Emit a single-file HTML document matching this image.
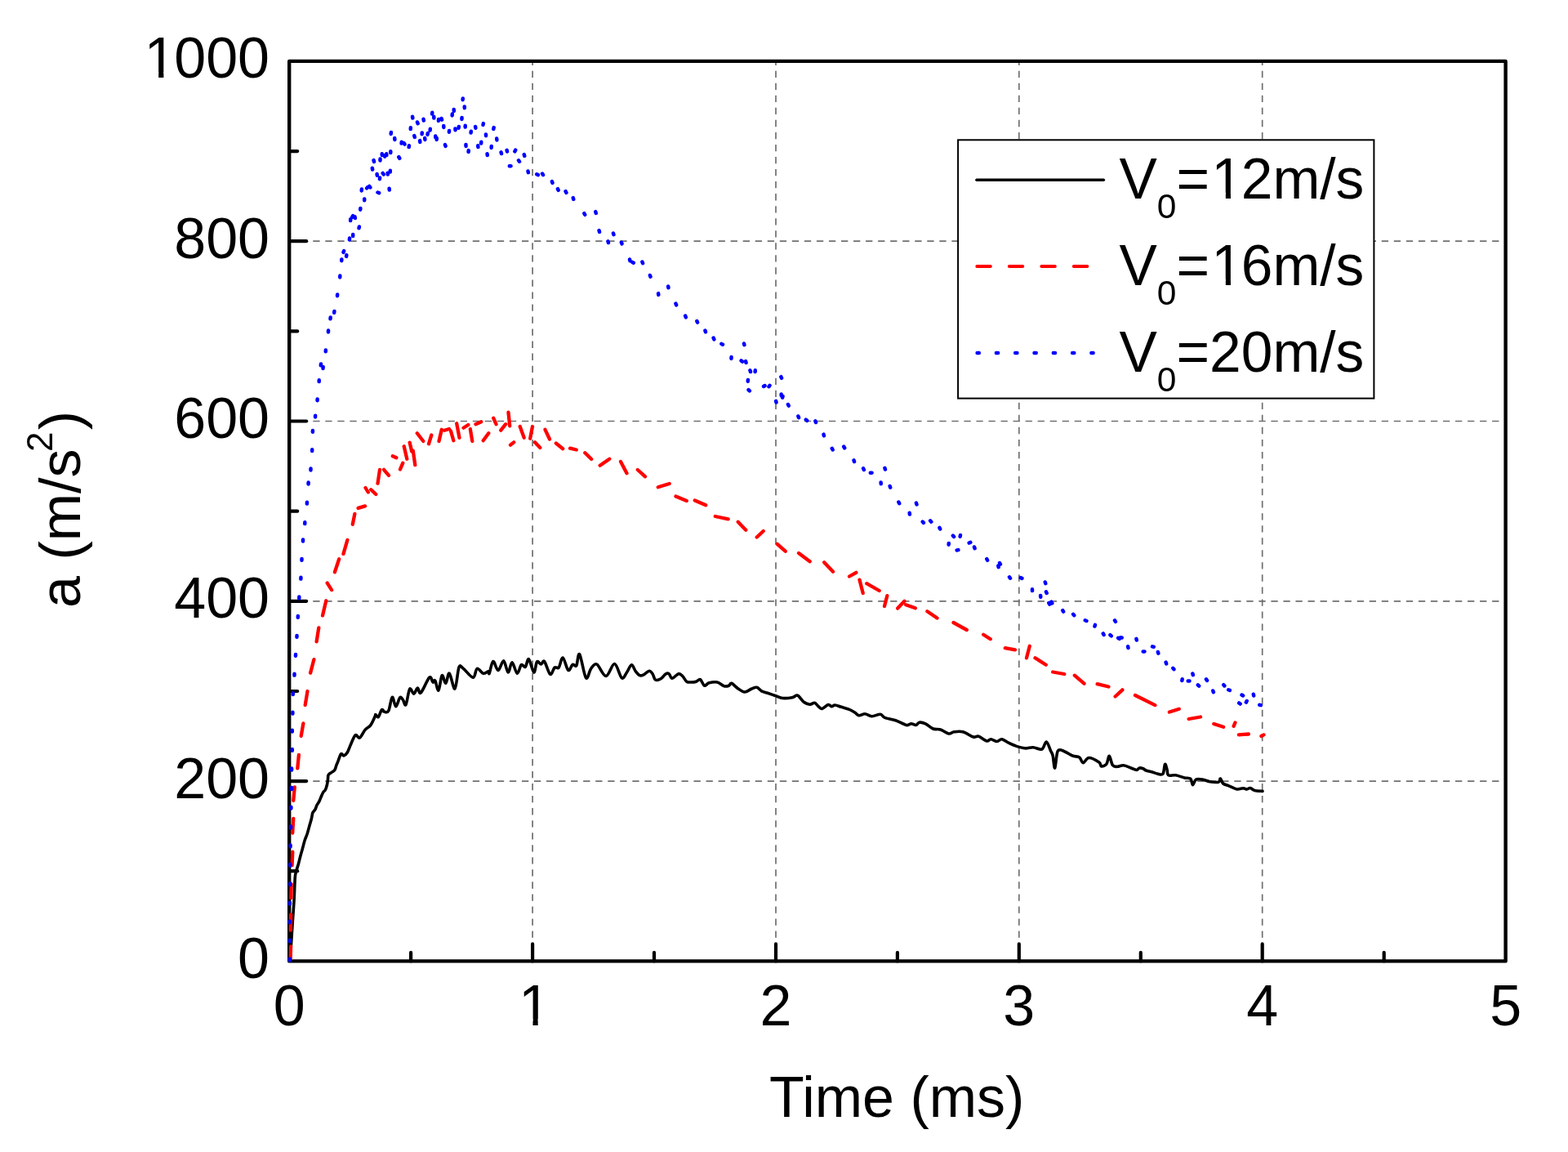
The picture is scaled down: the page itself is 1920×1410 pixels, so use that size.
<!DOCTYPE html>
<html><head><meta charset="utf-8"><title>a vs Time</title>
<style>html,body{margin:0;padding:0;background:#fff;}body{width:1920px;height:1410px;overflow:hidden;}svg{display:block;}text{font-family:"Liberation Sans", Arial, Helvetica, sans-serif;fill:#000;}</style>
</head><body>
<svg width="1920" height="1410" viewBox="0 0 1920 1410">
<defs><clipPath id="pc"><rect x="351.2" y="74.9" width="1492.4" height="1104.5"/></clipPath><clipPath id="c1_1"><path clip-rule="evenodd" d="M-5000 -5000H5000V5000H-5000ZM1487.76 235.81H1500.83V245.00H1487.76ZM1506.97 235.81H1519.49V245.00H1506.97Z"/></clipPath><clipPath id="c1_2"><path clip-rule="evenodd" d="M-5000 -5000H5000V5000H-5000ZM1487.76 341.81H1500.83V351.00H1487.76ZM1506.97 341.81H1519.49V351.00H1506.97Z"/></clipPath><clipPath id="c1_3"><path clip-rule="evenodd" d="M-5000 -5000H5000V5000H-5000ZM181.01 88.07H194.17V97.30H181.01ZM200.36 88.07H212.97V97.30H200.36Z"/></clipPath><clipPath id="c1_4"><path clip-rule="evenodd" d="M-5000 -5000H5000V5000H-5000ZM639.35 1247.27H652.51V1256.50H639.35ZM658.69 1247.27H671.31V1256.50H658.69Z"/></clipPath></defs>
<rect x="0" y="0" width="1920" height="1410" fill="#fff"/>
<g stroke="#707070" stroke-width="1.7" stroke-dasharray="8.3 6.74" fill="none">
<line x1="652.1" y1="74.9" x2="652.1" y2="1176.4" stroke-dashoffset="3.24"/>
<line x1="950.0" y1="74.9" x2="950.0" y2="1176.4" stroke-dashoffset="3.24"/>
<line x1="1247.8" y1="74.9" x2="1247.8" y2="1176.4" stroke-dashoffset="3.24"/>
<line x1="1545.7" y1="74.9" x2="1545.7" y2="1176.4" stroke-dashoffset="3.24"/>
<line x1="354.2" y1="956.1" x2="1843.6" y2="956.1" stroke-dashoffset="1.0"/>
<line x1="354.2" y1="735.8" x2="1843.6" y2="735.8" stroke-dashoffset="1.0"/>
<line x1="354.2" y1="515.5" x2="1843.6" y2="515.5" stroke-dashoffset="1.0"/>
<line x1="354.2" y1="295.2" x2="1843.6" y2="295.2" stroke-dashoffset="1.0"/>
</g>
<g stroke="#000" stroke-width="4.2" stroke-linecap="round" fill="none">
<line x1="354.2" y1="1066.2" x2="364.2" y2="1066.2"/>
<line x1="354.2" y1="956.1" x2="375.2" y2="956.1"/>
<line x1="354.2" y1="846.0" x2="364.2" y2="846.0"/>
<line x1="354.2" y1="735.8" x2="375.2" y2="735.8"/>
<line x1="354.2" y1="625.7" x2="364.2" y2="625.7"/>
<line x1="354.2" y1="515.5" x2="375.2" y2="515.5"/>
<line x1="354.2" y1="405.4" x2="364.2" y2="405.4"/>
<line x1="354.2" y1="295.2" x2="375.2" y2="295.2"/>
<line x1="354.2" y1="185.1" x2="364.2" y2="185.1"/>
<line x1="503.1" y1="1176.4" x2="503.1" y2="1165.9"/>
<line x1="652.1" y1="1176.4" x2="652.1" y2="1155.4"/>
<line x1="801.0" y1="1176.4" x2="801.0" y2="1165.9"/>
<line x1="950.0" y1="1176.4" x2="950.0" y2="1155.4"/>
<line x1="1098.9" y1="1176.4" x2="1098.9" y2="1165.9"/>
<line x1="1247.8" y1="1176.4" x2="1247.8" y2="1155.4"/>
<line x1="1396.8" y1="1176.4" x2="1396.8" y2="1165.9"/>
<line x1="1545.7" y1="1176.4" x2="1545.7" y2="1155.4"/>
<line x1="1694.7" y1="1176.4" x2="1694.7" y2="1165.9"/>
</g>
<rect x="354.2" y="74.9" width="1489.4" height="1101.5" fill="none" stroke="#000" stroke-width="4.4" stroke-linejoin="round"/>
<g clip-path="url(#pc)">
<path d="M354.90 1176.00C355.08 1173.92 355.48 1170.73 356.00 1163.50C356.52 1156.27 357.32 1142.90 358.00 1132.60C358.68 1122.30 359.55 1111.47 360.10 1101.70C360.65 1091.93 360.83 1080.00 361.30 1074.00C361.77 1068.00 362.22 1068.45 362.90 1065.70C363.58 1062.95 364.55 1060.58 365.40 1057.50C366.25 1054.42 367.13 1050.45 368.00 1047.20C368.87 1043.95 369.75 1041.08 370.60 1038.00C371.45 1034.92 372.17 1031.62 373.10 1028.70C374.03 1025.78 375.25 1023.42 376.20 1020.50C377.15 1017.58 377.93 1014.28 378.80 1011.20C379.67 1008.12 380.72 1004.73 381.40 1002.00C382.08 999.27 382.13 996.68 382.90 994.80C383.67 992.92 385.15 992.25 386.00 990.70C386.85 989.15 387.23 987.05 388.00 985.50C388.77 983.95 389.73 983.12 390.60 981.40C391.47 979.68 392.33 977.17 393.20 975.20C394.07 973.23 394.95 970.97 395.80 969.60C396.65 968.23 397.53 968.47 398.30 967.00C399.07 965.53 399.88 962.85 400.40 960.80C400.92 958.75 401.15 956.67 401.40 954.70C401.65 952.73 401.55 950.28 401.90 949.00C402.25 947.72 402.55 947.77 403.50 947.00C404.45 946.23 406.48 945.27 407.60 944.40C408.72 943.53 409.52 943.00 410.20 941.80C410.88 940.60 411.10 938.82 411.70 937.20C412.30 935.58 412.82 934.50 413.80 932.10C414.78 929.70 416.42 923.98 417.60 922.80C418.78 921.62 419.62 925.30 420.90 925.00C422.18 924.70 423.83 923.38 425.30 921.00C426.77 918.62 428.05 914.25 429.70 910.70C431.35 907.15 433.38 900.98 435.20 899.70C437.02 898.42 438.60 904.10 440.60 903.00C442.60 901.90 445.00 895.67 447.20 893.10C449.40 890.53 451.78 890.35 453.80 887.60C455.82 884.85 458.27 878.75 459.30 876.60C460.33 874.45 459.33 874.55 460.00 874.70C460.67 874.85 462.05 878.50 463.30 877.50C464.55 876.50 466.25 869.73 467.50 868.70C468.75 867.67 469.42 871.08 470.80 871.30C472.18 871.52 474.22 873.00 475.80 870.00C477.38 867.00 478.82 854.18 480.30 853.30C481.78 852.42 483.13 864.62 484.70 864.70C486.27 864.78 488.27 855.20 489.70 853.80C491.13 852.40 492.08 854.85 493.30 856.30C494.52 857.75 495.60 864.67 497.00 862.50C498.40 860.33 500.08 845.52 501.70 843.30C503.32 841.08 505.10 849.42 506.70 849.20C508.30 848.98 509.87 842.20 511.30 842.00C512.73 841.80 512.88 850.13 515.30 848.00C517.72 845.87 523.35 831.37 525.80 829.20C528.25 827.03 528.83 834.37 530.00 835.00C531.17 835.63 531.63 831.33 532.80 833.00C533.97 834.67 535.60 846.05 537.00 845.00C538.40 843.95 539.73 828.15 541.20 826.70C542.67 825.25 544.28 836.72 545.80 836.30C547.32 835.88 548.43 823.08 550.30 824.20C552.17 825.32 555.05 844.25 557.00 843.00C558.95 841.75 560.33 820.87 562.00 816.70C563.67 812.53 564.13 815.92 567.00 818.00C569.87 820.08 576.33 829.15 579.20 829.20C582.07 829.25 582.12 819.13 584.20 818.30C586.28 817.47 589.40 823.63 591.70 824.20C594.00 824.77 596.75 821.70 598.00 821.70C599.25 821.70 598.23 826.23 599.20 824.20C600.17 822.17 602.00 810.12 603.80 809.50C605.60 808.88 607.85 820.62 610.00 820.50C612.15 820.38 614.67 808.38 616.70 808.80C618.73 809.22 620.48 822.67 622.20 823.00C623.92 823.33 625.15 810.60 627.00 810.80C628.85 811.00 631.42 823.72 633.30 824.20C635.18 824.68 636.63 815.02 638.30 813.70C639.97 812.38 641.77 817.47 643.30 816.30C644.83 815.13 645.77 805.58 647.50 806.70C649.23 807.82 652.03 822.45 653.70 823.00C655.37 823.55 656.03 811.67 657.50 810.00C658.97 808.33 660.97 813.05 662.50 813.00C664.03 812.95 664.83 807.65 666.70 809.70C668.57 811.75 671.62 824.08 673.70 825.30C675.78 826.52 677.45 818.38 679.20 817.00C680.95 815.62 682.53 819.00 684.20 817.00C685.87 815.00 687.27 804.45 689.20 805.00C691.13 805.55 693.78 818.92 695.80 820.30C697.82 821.68 699.63 814.23 701.30 813.30C702.97 812.37 704.40 816.78 705.80 814.70C707.20 812.62 707.75 798.30 709.70 800.80C711.65 803.30 715.17 826.78 717.50 829.70C719.83 832.62 721.48 821.08 723.70 818.30C725.92 815.52 727.75 811.47 730.80 813.00C733.85 814.53 738.38 827.58 742.00 827.50C745.62 827.42 749.28 812.13 752.50 812.50C755.72 812.87 758.80 827.95 761.30 829.70C763.80 831.45 765.50 825.67 767.50 823.00C769.50 820.33 771.50 813.92 773.30 813.70C775.10 813.48 776.63 819.53 778.30 821.70C779.97 823.87 781.63 826.02 783.30 826.70C784.97 827.38 786.35 826.70 788.30 825.80C790.25 824.90 793.18 821.43 795.00 821.30C796.82 821.17 797.95 823.22 799.20 825.00C800.45 826.78 800.83 831.03 802.50 832.00C804.17 832.97 807.12 831.97 809.20 830.80C811.28 829.63 813.33 826.02 815.00 825.00C816.67 823.98 817.87 823.82 819.20 824.70C820.53 825.58 821.07 830.30 823.00 830.30C824.93 830.30 828.67 825.17 830.80 824.70C832.93 824.23 834.13 825.92 835.80 827.50C837.47 829.08 838.98 832.95 840.80 834.20C842.62 835.45 844.75 835.00 846.70 835.00C848.65 835.00 850.70 834.75 852.50 834.20C854.30 833.65 855.83 830.87 857.50 831.70C859.17 832.53 860.70 838.52 862.50 839.20C864.30 839.88 865.67 836.50 868.30 835.80C870.93 835.10 875.23 834.35 878.30 835.00C881.37 835.65 884.33 839.00 886.70 839.70C889.07 840.40 890.98 839.77 892.50 839.20C894.02 838.63 894.00 835.75 895.80 836.30C897.60 836.85 900.65 840.72 903.30 842.50C905.95 844.28 908.92 846.87 911.70 847.00C914.48 847.13 917.50 844.25 920.00 843.30C922.50 842.35 924.62 840.88 926.70 841.30C928.78 841.72 930.28 844.63 932.50 845.80C934.72 846.97 937.08 847.32 940.00 848.30C942.92 849.28 946.95 850.67 950.00 851.70C953.05 852.73 954.97 854.17 958.30 854.50C961.63 854.83 966.93 854.25 970.00 853.70C973.07 853.15 974.33 850.28 976.70 851.20C979.07 852.12 981.70 857.37 984.20 859.20C986.70 861.03 989.48 862.02 991.70 862.20C993.92 862.38 995.70 859.83 997.50 860.30C999.30 860.77 1000.97 863.80 1002.50 865.00C1004.03 866.20 1004.75 867.92 1006.70 867.50C1008.65 867.08 1012.27 862.97 1014.20 862.50C1016.13 862.03 1016.92 864.62 1018.30 864.70C1019.68 864.78 1020.55 862.90 1022.50 863.00C1024.45 863.10 1027.08 864.42 1030.00 865.30C1032.92 866.18 1037.22 867.18 1040.00 868.30C1042.78 869.42 1044.75 870.75 1046.70 872.00C1048.65 873.25 1049.62 875.52 1051.70 875.80C1053.78 876.08 1056.57 873.55 1059.20 873.70C1061.83 873.85 1064.37 876.62 1067.50 876.70C1070.63 876.78 1075.37 873.93 1078.00 874.20C1080.63 874.47 1080.18 877.05 1083.30 878.30C1086.42 879.55 1092.25 880.17 1096.70 881.70C1101.15 883.23 1106.82 886.82 1110.00 887.50C1113.18 888.18 1113.85 885.80 1115.80 885.80C1117.75 885.80 1120.03 887.77 1121.70 887.50C1123.37 887.23 1123.87 884.48 1125.80 884.20C1127.73 883.92 1130.52 884.50 1133.30 885.80C1136.08 887.10 1139.43 890.80 1142.50 892.00C1145.57 893.20 1148.50 892.00 1151.70 893.00C1154.90 894.00 1158.93 897.53 1161.70 898.00C1164.47 898.47 1165.38 896.17 1168.30 895.80C1171.22 895.43 1175.30 894.77 1179.20 895.80C1183.10 896.83 1188.52 901.08 1191.70 902.00C1194.88 902.92 1195.53 900.47 1198.30 901.30C1201.07 902.13 1205.80 906.43 1208.30 907.00C1210.80 907.57 1211.22 904.62 1213.30 904.70C1215.38 904.78 1218.57 907.50 1220.80 907.50C1223.03 907.50 1224.33 904.42 1226.70 904.70C1229.07 904.98 1232.23 907.85 1235.00 909.20C1237.77 910.55 1239.97 911.70 1243.30 912.80C1246.63 913.90 1251.38 915.48 1255.00 915.80C1258.62 916.12 1261.53 914.50 1265.00 914.70C1268.47 914.90 1273.08 918.12 1275.80 917.00C1278.52 915.88 1279.48 907.63 1281.30 908.00C1283.12 908.37 1285.38 916.37 1286.70 919.20C1288.02 922.03 1288.37 921.53 1289.20 925.00C1290.03 928.47 1290.68 940.97 1291.70 940.00C1292.72 939.03 1293.37 922.58 1295.30 919.20C1297.23 915.82 1300.30 918.73 1303.30 919.70C1306.30 920.67 1310.23 923.78 1313.30 925.00C1316.37 926.22 1319.53 925.55 1321.70 927.00C1323.87 928.45 1324.37 933.62 1326.30 933.70C1328.23 933.78 1330.05 927.62 1333.30 927.50C1336.55 927.38 1343.23 931.25 1345.80 933.00C1348.37 934.75 1347.17 937.67 1348.70 938.00C1350.23 938.33 1353.40 937.12 1355.00 935.00C1356.60 932.88 1357.05 925.02 1358.30 925.30C1359.55 925.58 1360.83 934.53 1362.50 936.70C1364.17 938.87 1366.08 938.30 1368.30 938.30C1370.52 938.30 1373.02 936.42 1375.80 936.70C1378.58 936.98 1382.35 939.03 1385.00 940.00C1387.65 940.97 1389.98 942.52 1391.70 942.50C1393.42 942.48 1393.95 940.18 1395.30 939.90C1396.65 939.62 1398.47 940.28 1399.80 940.80C1401.13 941.32 1401.53 942.33 1403.30 943.00C1405.07 943.67 1407.88 944.07 1410.40 944.80C1412.92 945.53 1416.12 947.03 1418.40 947.40C1420.68 947.77 1422.75 948.98 1424.10 947.00C1425.45 945.02 1425.68 936.38 1426.50 935.50C1427.32 934.62 1428.28 939.48 1429.00 941.70C1429.72 943.92 1429.03 947.62 1430.80 948.80C1432.57 949.98 1436.35 948.28 1439.60 948.80C1442.85 949.32 1447.27 951.17 1450.30 951.90C1453.33 952.63 1456.10 951.73 1457.80 953.20C1459.50 954.67 1459.38 960.55 1460.50 960.70C1461.62 960.85 1462.52 955.20 1464.50 954.10C1466.48 953.00 1469.60 953.67 1472.40 954.10C1475.20 954.53 1478.03 956.18 1481.30 956.70C1484.57 957.22 1489.82 957.82 1492.00 957.20C1494.18 956.58 1493.45 952.70 1494.40 953.00C1495.35 953.30 1495.90 957.48 1497.70 959.00C1499.50 960.52 1502.38 960.93 1505.20 962.10C1508.02 963.27 1511.78 965.57 1514.60 966.00C1517.42 966.43 1520.12 964.70 1522.10 964.70C1524.08 964.70 1525.02 966.03 1526.50 966.00C1527.98 965.97 1529.37 964.27 1531.00 964.50C1532.63 964.73 1533.80 966.75 1536.30 967.40C1538.80 968.05 1544.38 968.23 1546.00 968.40" fill="none" stroke="#000" stroke-width="3.6" stroke-linejoin="round" stroke-linecap="round"/>
<path d="M355.7 1173.5L356.1 1158.5M355.8 1138.5L356.2 1119.5M356.3 1099.0L356.8 1082.2M357.6 1059.1L358.3 1042.6M358.2 1019.5L359.3 1001.9M359.3 979.9L360.8 963.4M364.3 940.4L365.9 923.9M368.7 900.8L371.4 885.4M373.7 863.0L376.5 846.0M380.1 823.6L384.4 807.2M387.6 785.3L390.3 768.3M395.0 753.4L399.3 735.3M400.7 713.6L406.1 722.1M409.9 700.2L415.2 684.3M420.5 677.9L425.4 660.9M431.8 641.7L434.4 628.9M438.6 621.9L447.1 619.4M447.5 597.0L450.8 602.5M454.2 599.2L460.3 605.0M462.5 591.7L465.0 575.0M470.0 574.8L476.0 581.9M480.8 558.3L485.3 560.3M490.0 574.5L493.3 566.7M494.7 546.3L498.3 561.7M501.7 541.7L504.2 552.5M505.8 551.7L508.3 569.2M510.8 530.3L518.3 540.0M525.0 543.3L528.3 532.5M537.5 540.0L540.8 525.8M544.2 526.7L550.0 525.0M552.0 527.5L555.3 539.2M559.2 518.3L562.5 535.8M567.5 523.7L573.3 520.0M575.8 525.0L578.3 540.0M582.5 519.2L589.2 516.3M591.7 539.2L598.3 530.3M604.2 511.7L607.5 519.2M613.3 526.7L619.2 519.2M622.5 504.7L624.2 521.3M625.0 544.7L629.2 541.3M636.7 522.0L641.7 535.8M649.2 536.7L652.0 522.0M655.0 541.3L661.3 548.0M667.5 525.8L673.0 537.5M680.8 542.5L689.2 549.2M698.0 548.7L705.8 550.5M716.3 554.2L724.2 562.0M734.7 569.7L746.3 561.7M760.0 565.0L767.5 579.2M780.8 575.0L790.0 583.3M805.8 596.3L819.7 592.0M827.5 607.5L840.8 613.0M850.8 612.5L864.2 618.3M875.8 632.0L891.7 635.3M903.7 638.7L913.3 648.7M926.7 657.5L934.7 650.0M951.7 665.8L961.7 674.7M978.0 677.0L991.7 687.2M1009.2 688.3L1020.0 699.7M1040.0 705.5L1048.3 700.8M1052.5 709.6L1056.7 726.0M1061.2 714.2L1076.7 723.0M1083.0 742.0L1086.3 729.2M1099.2 744.6L1107.5 735.8M1109.2 740.2L1120.8 744.2M1135.4 748.3L1147.5 756.5M1167.5 762.0L1183.8 771.0M1204.2 776.7L1212.8 782.2M1230.8 793.2L1243.0 795.4M1257.0 805.3L1260.8 790.8M1267.5 805.3L1280.8 813.7M1289.2 822.5L1303.3 825.0M1315.8 826.7L1327.5 836.7M1343.6 837.2L1357.5 840.5M1365.6 852.5L1374.4 844.4M1390.0 851.0L1414.4 863.1M1431.9 871.5L1443.8 867.8M1455.6 880.0L1470.0 877.5M1486.3 886.0L1498.1 889.8M1510.6 888.8L1512.5 884.4M1516.9 899.4L1528.8 898.5M1544.4 901.0L1547.5 899.4" fill="none" stroke="#f00" stroke-width="4.3" stroke-linecap="round"/>
<path d="M354.90 1175.40L354.90 1173.60M354.90 1152.30L354.90 1150.50M354.90 1129.30L354.90 1127.50M354.90 1106.60L354.90 1104.80M355.30 1083.10L355.30 1081.30M355.30 1059.60L355.30 1057.80M355.60 1036.20L355.60 1034.40M355.99 1013.40L356.01 1011.60M356.39 989.60L356.41 987.80M357.10 965.90L357.10 964.10M357.10 942.40L357.10 940.60M357.80 918.80L357.80 917.00M357.80 895.50L357.80 893.70M358.39 873.50L358.41 871.70M358.79 850.00L358.81 848.20M360.48 826.60L360.52 824.80M361.98 802.80L362.02 801.00M363.48 779.80L363.52 778.00M364.78 755.80L364.82 754.00M366.28 732.40L366.32 730.60M368.38 708.60L368.42 706.80M369.48 685.80L369.52 684.00M370.97 662.40L371.03 660.60M373.27 641.10L373.33 639.30M375.87 616.60L375.93 614.80M377.57 592.40L377.63 590.60M380.47 575.40L380.53 573.60M382.18 552.00L382.22 550.20M382.87 528.80L382.93 527.00M386.06 510.50L386.14 508.70M388.57 490.30L388.63 488.50M390.67 467.10L390.73 465.30M392.81 447.30L392.99 445.50M395.50 450.89L395.70 449.11M398.76 430.30L398.84 428.50M401.96 406.40L402.04 404.60M404.51 390.30L404.69 388.50M409.21 382.80L409.39 381.00M413.05 362.20L413.15 360.40M416.26 339.40L416.34 337.60M418.26 319.20L418.34 317.40M420.49 308.84L421.11 307.16M424.06 313.89L424.34 312.11M427.90 293.39L428.10 291.61M432.18 288.90L432.22 287.10M429.21 270.10L429.19 268.30M431.23 265.77L432.17 264.23M434.52 265.32L434.88 267.08M439.51 279.18L439.89 277.42M441.24 256.70L441.36 254.90M446.18 245.20L446.22 243.40M442.73 233.40L442.87 231.60M449.11 230.38L450.29 229.02M452.26 227.98L453.34 229.42M462.46 235.48L464.14 236.12M476.77 232.60L476.63 230.80M456.16 207.59L455.84 205.81M457.57 196.13L458.03 197.87M461.60 212.91L461.80 214.69M464.94 219.20L465.06 217.40M465.47 196.40L465.53 194.60M467.74 188.30L467.86 190.10M468.68 211.97L469.72 213.43M471.15 191.70L471.25 189.90M473.25 188.30L473.35 190.10M474.63 211.80L474.77 213.60M477.76 210.60L477.84 208.80M478.29 187.10L478.31 185.30M478.71 163.90L478.89 162.10M483.20 169.11L483.40 170.89M488.34 192.23L489.26 193.77M491.59 175.59L491.81 173.81M494.50 175.05L495.50 176.55M500.68 180.09L500.92 178.31M502.76 158.10L502.84 156.30M505.06 142.81L505.34 144.59M507.24 166.14L507.76 167.86M510.99 149.46L511.61 151.14M514.08 172.11L514.32 173.89M516.65 164.20L516.75 162.40M518.54 145.81L518.86 147.59M520.21 169.10L520.39 170.90M523.53 164.68L523.87 162.92M526.63 159.60L526.77 157.80M529.11 139.60L529.29 137.80M531.26 142.80L531.34 144.60M533.26 166.60L533.34 168.40M534.65 170.90L534.75 169.10M536.92 147.90L537.08 146.10M540.57 144.93L541.03 146.67M543.26 154.10L543.34 155.90M544.98 177.16L545.62 178.84M549.93 161.70L550.07 159.90M553.63 141.40L553.77 139.60M555.74 134.10L555.86 135.90M557.42 157.40L557.58 159.20M561.52 156.68L561.88 154.92M565.46 145.90L565.54 144.10M566.63 122.20L566.77 120.40M568.77 130.40L568.83 132.20M569.69 153.80L569.71 155.60M570.46 177.10L570.54 178.90M573.59 185.89L573.81 184.11M576.61 162.60L576.79 160.80M582.05 154.91L582.35 156.69M585.19 178.31L585.41 180.09M589.13 175.60L589.27 173.80M591.52 152.88L591.88 151.12M594.96 164.40L595.04 166.20M596.56 188.31L596.84 190.09M601.63 180.90L601.77 179.10M604.30 157.88L604.70 156.12M608.21 169.60L608.39 171.40M613.55 186.34L614.05 188.06M620.60 183.82L621.00 185.58M623.80 203.35L625.60 203.25M630.35 185.28L631.25 183.72M634.99 196.26L636.01 197.74M641.76 189.13L642.24 190.87M646.50 209.42L646.90 211.18M657.20 213.29L658.80 214.11M664.01 212.55L664.99 214.05M675.91 222.15L676.49 223.85M682.92 231.18L683.68 232.82M692.56 234.22L693.44 235.78M701.76 242.13L702.24 243.87M715.37 261.21L716.23 262.79M729.25 259.13L729.75 260.87M733.56 282.13L734.04 283.87M750.96 285.43L751.44 287.17M744.44 295.34L744.96 297.06M760.87 296.66L761.53 298.34M771.03 317.42L771.37 319.18M774.22 320.85L775.78 321.75M786.35 320.47L787.05 322.13M795.90 336.95L796.50 338.65M818.17 350.41L818.43 352.19M806.07 359.11L806.33 360.89M827.46 371.67L828.14 373.33M839.16 386.67L839.84 388.33M853.33 392.98L854.07 394.62M863.42 404.54L863.98 406.26M873.64 413.67L874.36 415.33M883.41 420.87L884.99 421.73M911.00 420.42L911.40 422.18M895.54 437.10L895.46 438.90M907.61 441.42L908.99 442.58M913.05 442.13L913.55 443.87M918.41 453.35L918.99 455.05M924.77 453.30L924.63 455.10M915.89 464.91L915.71 466.69M916.57 477.16L917.83 478.44M935.04 472.99L936.56 472.01M941.50 473.25L942.50 471.75M956.33 461.18L957.07 462.82M956.68 482.40L956.72 484.20M958.52 484.93L958.08 486.67M950.10 490.82L950.50 492.58M964.90 494.99L965.70 496.61M977.36 509.46L978.04 511.14M986.81 513.62L988.19 514.78M998.38 515.36L999.02 517.04M1008.52 531.62L1008.88 533.38M1018.76 548.91L1019.64 550.49M1033.23 546.73L1034.17 548.27M1045.54 563.34L1046.06 565.06M1057.11 573.39L1057.89 575.01M1065.80 578.85L1067.60 578.75M1083.43 572.84L1083.97 574.56M1078.62 590.40L1078.78 592.20M1089.64 594.94L1090.16 596.66M1100.38 614.60L1101.22 616.20M1121.92 615.64L1122.48 617.36M1113.69 627.81L1113.91 629.59M1129.69 638.54L1130.91 639.86M1139.09 637.33L1140.31 638.67M1150.39 645.90L1151.21 647.50M1166.89 655.64L1168.11 656.96M1175.98 654.92L1175.62 656.68M1161.76 664.90L1161.64 666.70M1171.62 673.46L1173.38 673.14M1186.67 664.56L1188.33 663.84M1193.01 669.45L1193.59 671.15M1208.28 684.21L1209.12 685.79M1224.06 689.01L1224.94 690.59M1222.30 692.42L1222.70 694.18M1236.00 706.25L1237.00 707.75M1249.77 707.14L1251.43 707.86M1279.74 712.44L1280.26 714.16M1263.97 721.30L1264.03 723.10M1280.93 724.38L1281.67 726.02M1274.12 728.90L1274.28 730.70M1284.34 738.02L1285.26 739.58M1287.33 736.73L1288.27 738.27M1301.24 747.13L1302.16 748.67M1314.14 751.80L1315.26 753.20M1328.78 759.23L1330.42 759.97M1365.03 759.33L1365.97 760.87M1340.96 764.84L1340.44 766.56M1350.78 775.41L1351.62 776.99M1359.40 777.23L1360.80 778.37M1369.13 780.83L1370.67 781.77M1371.92 780.23L1373.68 780.57M1391.39 781.82L1391.81 783.58M1381.12 791.32L1381.48 793.08M1399.70 797.55L1401.50 797.45M1411.02 791.40L1412.78 791.80M1417.87 797.93L1418.33 799.67M1427.63 810.64L1428.17 812.36M1436.34 817.79L1437.46 819.21M1460.37 824.43L1460.83 826.17M1447.68 831.22L1447.32 832.98M1454.70 833.40L1456.50 833.40M1476.98 831.37L1478.02 832.83M1466.85 838.38L1468.15 839.62M1498.23 838.11L1499.37 839.49M1485.30 845.45L1485.90 847.15M1504.16 844.27L1505.84 844.93M1520.53 850.54L1522.07 851.46M1534.81 849.72L1535.19 851.48M1526.73 858.01L1525.87 859.59M1517.17 860.47L1518.63 861.53M1542.22 862.70L1543.98 863.10" fill="none" stroke="#00f" stroke-width="4.5" stroke-linecap="round"/>
</g>
<rect x="1173.1" y="171.3" width="509.3" height="316.3" fill="#fff" stroke="#000" stroke-width="2"/>
<line x1="1195.9" y1="220.2" x2="1351.4" y2="220.2" stroke="#000" stroke-width="3.4" stroke-linecap="round"/>
<line x1="1196.3" y1="325.9" x2="1352" y2="325.9" stroke="#f00" stroke-width="4" stroke-linecap="round" stroke-dasharray="16.5 23" />
<line x1="1196.6" y1="431.9" x2="1352" y2="431.9" stroke="#00f" stroke-width="4.5" stroke-linecap="round" stroke-dasharray="2.2 21.1" />
<text x="1370.5" y="243.0" font-size="69.5" clip-path="url(#c1_1)">V<tspan font-size="42.5" dy="24">0</tspan><tspan dy="-24">=<tspan dx="2.27">1</tspan><tspan dx="-2.27">2</tspan>m/s</tspan></text>
<text x="1370.5" y="349.0" font-size="69.5" clip-path="url(#c1_2)">V<tspan font-size="42.5" dy="24">0</tspan><tspan dy="-24">=<tspan dx="2.27">1</tspan><tspan dx="-2.27">6</tspan>m/s</tspan></text>
<text x="1370.5" y="455.0" font-size="69.5">V<tspan font-size="42.5" dy="24">0</tspan><tspan dy="-24">=20m/s</tspan></text>
<text x="291.07" y="1196.80" font-size="70">0</text>
<text x="213.21" y="976.50" font-size="70">200</text>
<text x="213.21" y="756.20" font-size="70">400</text>
<text x="213.21" y="535.90" font-size="70">600</text>
<text x="213.21" y="315.60" font-size="70">800</text>
<text x="174.28" y="95.30" font-size="70" clip-path="url(#c1_3)"><tspan dx="2.29">1</tspan><tspan dx="-2.29">0</tspan>00</text>
<text x="334.73" y="1254.50" font-size="70">0</text>
<text x="632.61" y="1254.50" font-size="70" clip-path="url(#c1_4)"><tspan dx="2.29">1</tspan></text>
<text x="930.49" y="1254.50" font-size="70">2</text>
<text x="1228.37" y="1254.50" font-size="70">3</text>
<text x="1526.25" y="1254.50" font-size="70">4</text>
<text x="1824.13" y="1254.50" font-size="70">5</text>
<text x="942.0" y="1367" font-size="70">Time (ms)</text>
<text transform="translate(98.2,743.9) rotate(-90)" x="0" y="0" font-size="70">a (m/s<tspan font-size="44" dx="-3.5" dy="-34.5">2</tspan><tspan dx="2.2" dy="34.5">)</tspan></text>
</svg>
</body></html>
